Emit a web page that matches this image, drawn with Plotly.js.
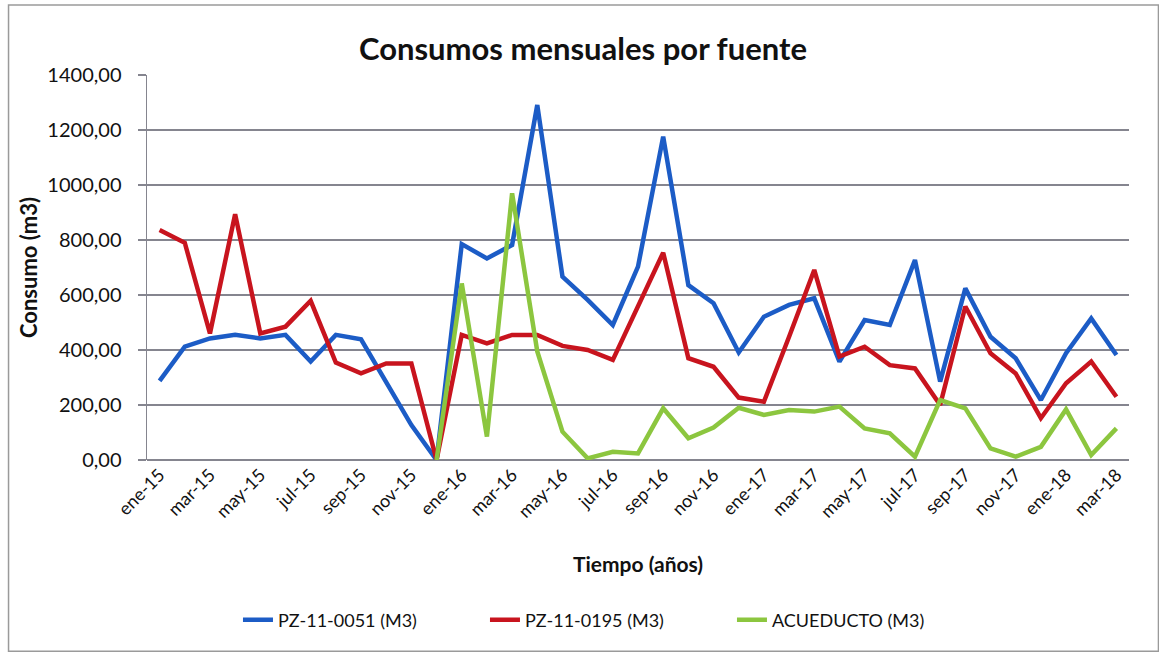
<!DOCTYPE html>
<html>
<head>
<meta charset="utf-8">
<script src="https://cdn.plot.ly/plotly-3.0.1.min.js"></script>
<style>
  html, body { margin: 0; padding: 0; background: #fff; }
  #chart { width: 1159px; height: 654px; }
</style>
</head>
<body>
<div id="chart"></div>
<script>
const months = [
  "ene-15","feb-15","mar-15","abr-15","may-15","jun-15","jul-15","ago-15","sep-15","oct-15","nov-15","dic-15",
  "ene-16","feb-16","mar-16","abr-16","may-16","jun-16","jul-16","ago-16","sep-16","oct-16","nov-16","dic-16",
  "ene-17","feb-17","mar-17","abr-17","may-17","jun-17","jul-17","ago-17","sep-17","oct-17","nov-17","dic-17",
  "ene-18","feb-18","mar-18"
];

const pz0051 = [
  288, 412, 442, 455, 442, 455, 358, 455, 439, 285, 127, 0,
  785, 733, 782, 1291, 667, 582, 491, 703, 1176, 636, 570, 391,
  521, 564, 588, 358, 509, 491, 727, 285, 624, 448, 370, 218,
  388, 515, 382
];

const pz0195 = [
  836, 790, 460, 894, 460, 485, 579, 354, 315, 351, 351, 0,
  455, 424, 455, 455, 415, 400, 364, 558, 754, 370, 339, 227,
  212, 448, 691, 376, 412, 345, 333, 200, 558, 388, 315, 152,
  279, 358, 230
];

const acueducto = [
  null, null, null, null, null, null, null, null, null, null, null, 0,
  642, 85, 970, 395, 103, 6, 30, 24, 188, 79, 118, 190,
  164, 182, 176, 194, 115, 97, 12, 218, 188, 42, 12, 48,
  184, 18, 115
];

const seriesNames = ["PZ-11-0051 (M3)", "PZ-11-0195 (M3)", "ACUEDUCTO (M3)"];
const tickLabels = months.filter((m, i) => i % 2 === 0);

const FONT = "Lato, 'Open Sans', 'Liberation Sans', sans-serif";

const traces = [
  { x: months, y: pz0051, name: seriesNames[0], type: "scatter", mode: "lines",
    line: { color: "#1c5cc6", width: 4.5 } },
  { x: months, y: pz0195, name: seriesNames[1], type: "scatter", mode: "lines",
    line: { color: "#c8141e", width: 4.5 } },
  { x: months, y: acueducto, name: seriesNames[2], type: "scatter", mode: "lines",
    line: { color: "#8cc63f", width: 4.5 } }
];

const layout = {
  width: 1159, height: 654,
  margin: { l: 147, r: 30, t: 75, b: 194 },
  paper_bgcolor: "#ffffff",
  plot_bgcolor: "#ffffff",
  separators: ",.",
  font: { family: FONT, color: "#111" },
  title: {
    text: "<b>Consumos mensuales por fuente</b>",
    font: { family: FONT, size: 31, color: "#111" },
    x: 0.503, xanchor: "center", xref: "container",
    y: 0.925, yanchor: "middle", yref: "container"
  },
  xaxis: {
    type: "category",
    range: [-0.5, months.length - 0.5],
    tickmode: "array",
    tickvals: tickLabels,
    ticktext: tickLabels,
    tickangle: -45,
    tickfont: { family: FONT, size: 18, color: "#111" },
    showgrid: false,
    showline: false,
    zeroline: false,
    ticks: "",
    title: { text: "<b>Tiempo (años)</b>", font: { family: FONT, size: 21, color: "#111" }, standoff: 36 }
  },
  yaxis: {
    range: [0, 1400],
    dtick: 200,
    tickformat: ".2f",
    tickfont: { family: FONT, size: 20, color: "#111" },
    ticklabelstandoff: 12,
    showgrid: true,
    gridcolor: "#85858f",
    gridwidth: 1.6,
    zeroline: true,
    zerolinecolor: "#85858f",
    zerolinewidth: 1.6,
    showline: true,
    linecolor: "#85858f",
    linewidth: 1.5,
    ticks: "outside",
    ticklen: 8,
    tickcolor: "#85858f",
    tickwidth: 1.6,
    title: { text: "<b>Consumo (m3)</b>", font: { family: FONT, size: 22, color: "#111" }, standoff: 3 }
  },
  legend: {
    orientation: "h",
    xref: "container", x: 0.525, xanchor: "center",
    yref: "container", y: 0.052, yanchor: "middle",
    font: { family: FONT, size: 18, color: "#111" },
    entrywidth: 202,
    entrywidthmode: "pixels",
    tracegroupgap: 0
  },
  showlegend: true,
  shapes: [{
    type: "rect", xref: "paper", yref: "paper",
    x0: -0.141, x1: 1.03, y0: -0.497, y1: 1.182,
    line: { color: "#9a9a9a", width: 1.5 }, fillcolor: "rgba(0,0,0,0)", layer: "below"
  }]
};

Plotly.newPlot("chart", traces, layout, { displayModeBar: false, staticPlot: true });
</script>
</body>
</html>
